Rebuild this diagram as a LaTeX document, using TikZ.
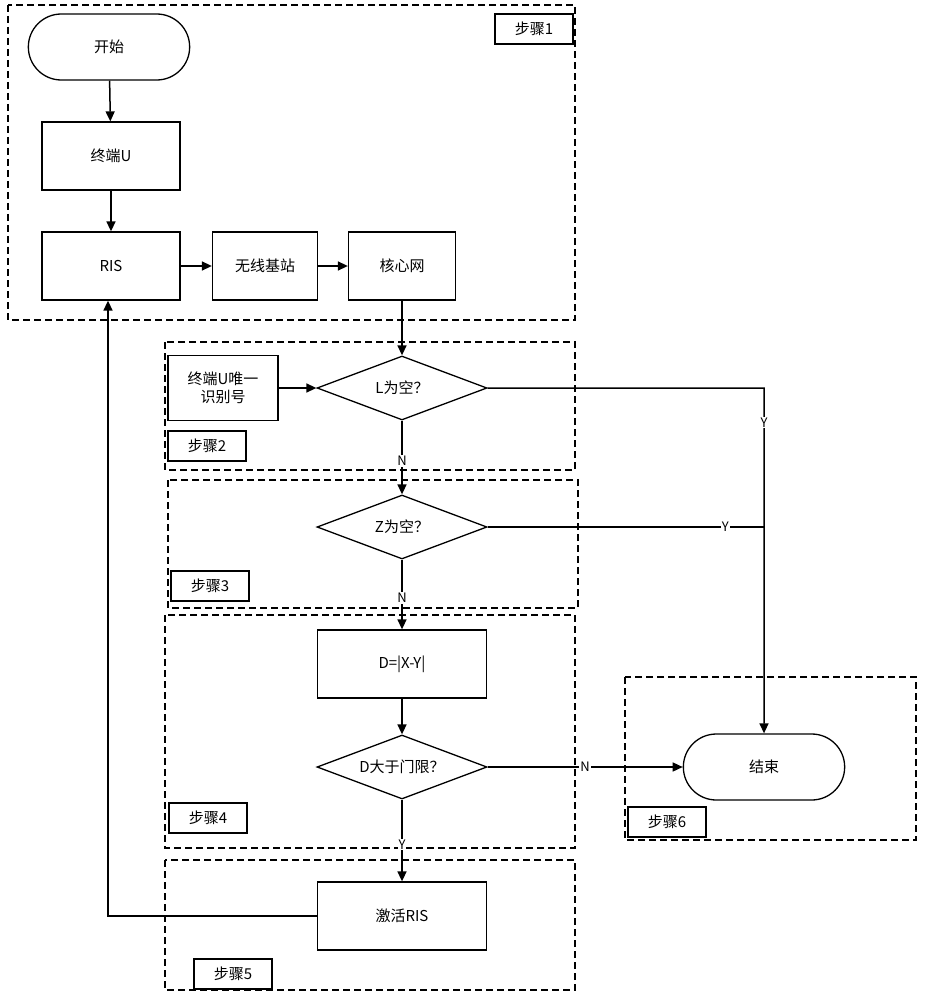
\documentclass[tikz,border=0pt]{standalone}
\usepackage{fontspec}
\setmainfont{Noto Sans CJK SC}
\usetikzlibrary{shapes.geometric,shapes.misc,arrows.meta,positioning}
\tikzset{
  box/.style={draw,line width=1.3pt,minimum width=138pt,minimum height=68pt,font=\fontsize{15}{18}\selectfont},
  term/.style={draw,line width=1.3pt,rounded rectangle,minimum width=168pt,minimum height=66pt,font=\fontsize{15}{18}\selectfont},
  dec/.style={draw,line width=1.3pt,diamond,aspect=2.7,minimum width=170pt,minimum height=64pt,inner sep=0pt,font=\fontsize{15}{18}\selectfont},
  frame/.style={draw,line width=1.3pt,dash pattern=on 7pt off 4pt},
  tag/.style={draw,line width=1.3pt,minimum width=78pt,minimum height=30pt,inner sep=1pt,font=\fontsize{15}{18}\selectfont},
  lbl/.style={fill=white,inner sep=1pt,font=\fontsize{13}{15}\selectfont},
  flow/.style={-{Triangle[length=10pt,width=9pt]},line width=1.5pt}
}
\begin{document}
\begin{tikzpicture}[x=1pt,y=-1pt]
  \useasboundingbox (0,0) rectangle (924,1000);
  % step frames
  \draw[frame] (8,5) rectangle (575,320);
  \draw[frame] (165,342) rectangle (575,470);
  \draw[frame] (168,480) rectangle (578,608);
  \draw[frame] (165,615) rectangle (575,848);
  \draw[frame] (165,860) rectangle (575,990);
  \draw[frame] (625,677) rectangle (916,840);
  \node[tag] (s1) at (534,29) {步骤1};
  \node[tag] (s2) at (207,446) {步骤2};
  \node[tag] (s3) at (210,586) {步骤3};
  \node[tag] (s4) at (208,818) {步骤4};
  \node[tag] (s5) at (233,974) {步骤5};
  \node[tag] (s6) at (667,822) {步骤6};

  % nodes
  \node[term] (start) at (109,47) {开始};
  \node[box] (term) at (111,156) {终端U};
  \node[box] (ris) at (111,266) {RIS};
  \node[box,minimum width=105pt] (bs) at (265,266) {无线基站};
  \node[box,minimum width=107pt] (core) at (402,266) {核心网};
  \node[box,minimum width=110pt,minimum height=65pt,align=center] (uid) at (223,388) {终端U唯一\\识别号};
  \node[dec] (isL) at (402,388) {L为空？};
  \node[dec] (isZ) at (402,527) {Z为空？};
  \node[box,minimum width=169pt] (diff) at (402,664) {D=|X-Y|};
  \node[dec] (isD) at (402,767) {D大于门限？};
  \node[box,minimum width=169pt] (act) at (402,916) {激活RIS};
  \node[term] (stop) at (764,767) {结束};
  \coordinate (c1) at (764,388);
  \coordinate (c2) at (764,527);
  \coordinate (c3) at (108,916);

  % connectors
  \draw[flow] (start) -- (term);
  \draw[flow] (term) -- (ris);
  \draw[flow] (ris) -- (bs);
  \draw[flow] (bs) -- (core);
  \draw[flow] (core) -- (isL);
  \draw[flow] (uid) -- (isL);
  \draw[flow] (isL) -- node[lbl,pos=0.55] {N} (isZ);
  \draw[flow] (isZ) -- node[lbl,pos=0.55] {N} (diff);
  \draw[flow] (diff) -- (isD);
  \draw[flow] (isD) -- node[lbl,pos=0.55] {Y} (act);
  \draw[flow] (isD) -- node[lbl,pos=0.5] {N} (stop);
  \draw[flow] (isL.east) -- (c1) -- node[lbl,pos=0.1] {Y} (stop);
  \draw[line width=1.5pt] (isZ.east) -- node[lbl,pos=0.86] {Y} (c2);
  \draw[flow] (act.west) -- (c3) -- (ris.south -| c3);
\end{tikzpicture}
\end{document}
